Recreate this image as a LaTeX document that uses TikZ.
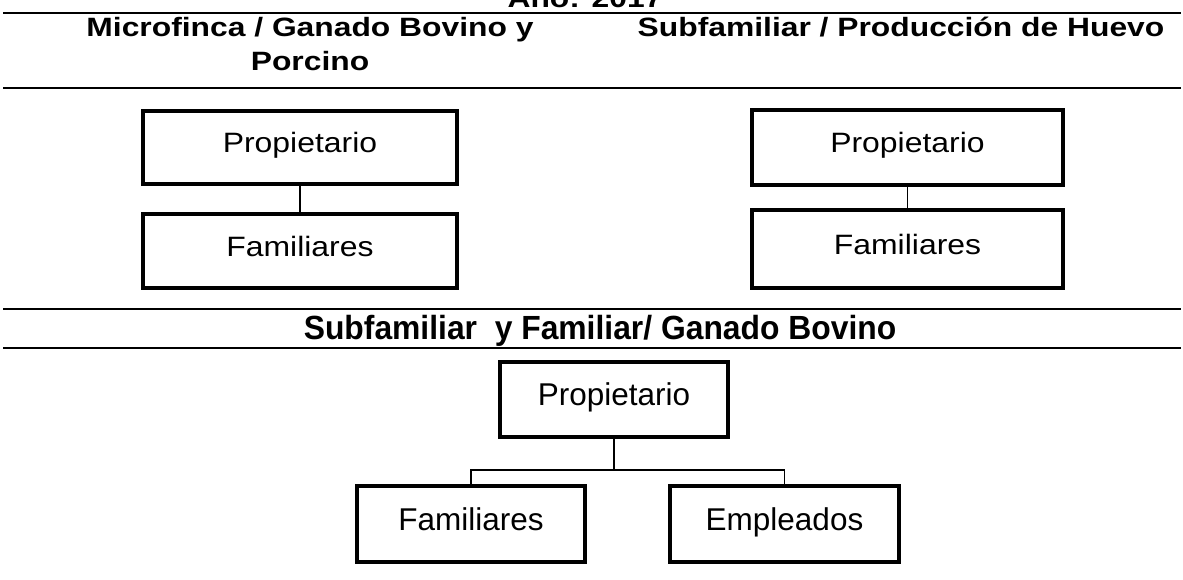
\documentclass[tikz,border=0pt]{standalone}
\usepackage{fontspec}
\setmainfont{Liberation Sans}
\newfontfamily\narrowbold[FakeStretch=0.95]{Liberation Sans Bold}
\newfontfamily\widebold[FakeStretch=1.2]{Liberation Sans Bold}
\newfontfamily\widereg[FakeStretch=1.14]{Liberation Sans}
\begin{document}
\begin{tikzpicture}[x=1pt,y=-1pt,
  ttl/.style={font=\fontsize{26.5}{34}\selectfont\widebold, inner sep=0pt, anchor=base, align=center},
  boxst/.style={draw, line width=3.5pt, inner sep=0pt, text height=20pt, text depth=9pt,
    font=\fontsize{28}{34}\selectfont\widereg},
  boxlow/.style={boxst, font=\fontsize{31.5}{37}\selectfont, text height=22pt, text depth=10pt},
  rule/.style={line width=1.3pt},
  conn/.style={line width=1.1pt}]
\useasboundingbox (0,0) rectangle (1183,580);
% titles
\node[ttl] (year) at (585,8) {Año: 2017};
\draw[rule] (3,13) -- (1181,13);
\node[ttl] (t1) at (310,71) {Microfinca / Ganado Bovino y\\Porcino};
\node[ttl] (t2) at (901,37) {Subfamiliar / Producción de Huevo};
\draw[rule] (3,88) -- (1181,88);
% left chart
\node[boxst, minimum width=314pt, minimum height=73pt] (p1) at (300,147.5) {Propietario};
\node[boxst, minimum width=314pt, minimum height=74pt] (f1) at (300,251) {Familiares};
\draw[conn] (p1.south) -- (f1.north);
% right chart
\node[boxst, minimum width=311pt, minimum height=75pt] (p2) at (907.5,147.5) {Propietario};
\node[boxst, minimum width=311pt, minimum height=78pt] (f2) at (907.5,249) {Familiares};
\draw[conn] (p2.south) -- (f2.north);
% bottom section
\draw[rule] (3,309) -- (1181,309);
\node[ttl, font=\fontsize{33.5}{38}\selectfont\narrowbold] (t3) at (600,339) {Subfamiliar \ y Familiar/ Ganado Bovino};
\draw[rule] (3,348) -- (1181,348);
\node[boxlow, minimum width=228pt, minimum height=75pt] (p3) at (614,399.5) {Propietario};
\node[boxlow, minimum width=228pt, minimum height=76pt] (f3) at (471,524) {Familiares};
\node[boxlow, minimum width=229pt, minimum height=76pt] (e3) at (784.5,524) {Empleados};
\coordinate (j) at (614,470);
\draw[conn] (p3.south) -- (j);
\draw[conn] (f3.north) |- (j) -| (e3.north);
\end{tikzpicture}
\end{document}
